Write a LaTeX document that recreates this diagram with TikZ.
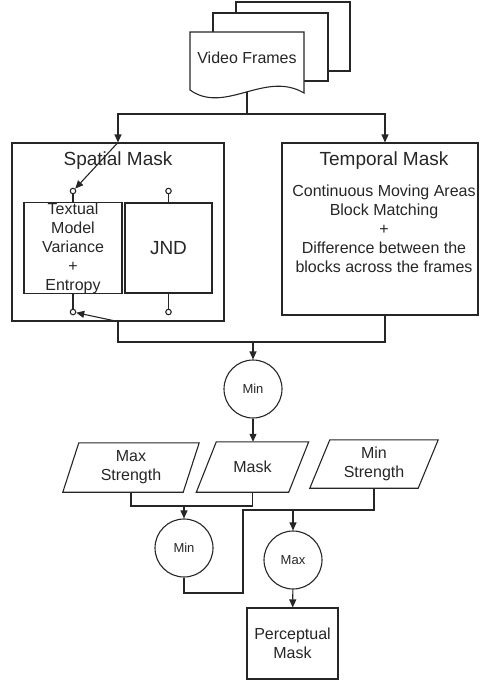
\documentclass[tikz,border=0pt]{standalone}
\usepackage{fontspec}
\setmainfont{Liberation Sans}
\usetikzlibrary{arrows.meta}
\definecolor{ink}{HTML}{262626}
\begin{document}
\begin{tikzpicture}[x=1pt,y=-1pt,
  line/.style={draw=ink, line width=1.1pt},
  arr/.style={line, -{Triangle[length=8pt,width=7pt]}},
  box/.style={line, rectangle, inner sep=0pt},
  txt/.style={text=ink, font=\fontsize{16}{19}\selectfont, align=center, inner sep=0pt},
  title/.style={text=ink, font=\fontsize{19}{22}\selectfont, inner sep=0pt},
  opnode/.style={line, circle, minimum size=58pt, inner sep=0pt, text=ink, font=\fontsize{13}{15}\selectfont},
  port/.style={line, circle, minimum size=5.5pt, inner sep=0pt, fill=white},
  page/.style={line, fill=white},
  pbox/.style={txt, minimum width=#1}]
\useasboundingbox (0,0) rectangle (479,682);

% stack of video frames
\draw[page] (236,2) rectangle (350,71);
\draw[page] (213,13) rectangle (328,81);
\draw[page] (190,32) -- (304,32) -- (304,93)
  .. controls (265,70) and (225,115) .. (190,90) -- cycle;
\node[txt] (vf) at (247,58) {Video Frames};
\coordinate (vfb) at (247,92);
\coordinate (split) at (247,114);

% spatial mask
\node[box, minimum width=212pt, minimum height=178pt] (sm) at (118,232) {};
\node[title] (smt) at (118,161) {Spatial Mask};
\node[box, txt, minimum width=98pt, minimum height=90pt] (tex) at (73,248)
  {Textual\\Model\\Variance\\+\\Entropy};
\node[box, minimum width=87pt, minimum height=90pt, text=ink,
  font=\fontsize{19}{22}\selectfont] (jnd) at (168.5,248) {JND};
\node[port] (p1) at (73,191) {};
\node[port] (p2) at (168.5,191) {};
\node[port] (p3) at (73,312) {};
\node[port] (p4) at (168.5,312) {};
\draw[line] (p1.south) -- (tex.north);
\draw[line] (p2.south) -- (jnd.north);
\draw[line] (tex.south) -- (p3.north);
\draw[line] (jnd.south) -- (p4.north);

% temporal mask
\node[box, minimum width=196pt, minimum height=172pt] (tm) at (380,229) {};
\node[title] (tmt) at (384,161) {Temporal Mask};
\node[txt] (tmb) at (384,229)
  {Continuous Moving Areas\\Block Matching\\+\\Difference between the\\blocks across the frames};

% frames feed both masks
\draw[arr] (vfb) -- (split) -| (sm.north);
\draw[arr] (split) -| ([xshift=5pt]tm.north);
\draw[arr] (sm.north) -- (p1);

% masks combined
\coordinate (join) at (253,342);
\draw[line] ([xshift=5pt]tm.south) |- (sm.south |- join) -- (sm.south);
\draw[arr] (sm.south) -- (p3);
\node[opnode] (min1) at (253,389) {Min};
\draw[arr] (join) -- (min1);

% strength inputs and mask
\node[pbox=120pt, minimum height=49pt] (maxs) at (131,467.5) {Max\\Strength};
\node[pbox=92pt, minimum height=50pt] (mask) at (252.5,467) {Mask};
\node[pbox=108pt, minimum height=48pt] (mins) at (374,464) {Min\\Strength};
\foreach \n/\s in {maxs/8,mask/10,mins/10}
  \draw[line] ([xshift=-\s pt]\n.south west) -- ([xshift=-\s pt]\n.south east)
    -- ([xshift=\s pt]\n.north east) -- ([xshift=\s pt]\n.north west) -- cycle;
\draw[arr] (min1.south) -- (min1.south |- mask.north);

% clamp by min / max
\node[opnode] (min2) at (184,548) {Min};
\node[opnode] (max) at (293,560) {Max};
\coordinate (j1) at (184,506);
\draw[line] (maxs.south) |- (j1) -| (mask.south);
\draw[arr] (j1) -- (min2);
\coordinate (j2) at (293,510);
\coordinate (j3) at (243,510);
\coordinate (j4) at (243,593);
\draw[line] (mins.south) |- (j3) -- (j4) -| (min2.south);
\draw[arr] (j2) -- (max);

% output
\node[box, txt, minimum width=91pt, minimum height=71pt] (pm) at (292.5,643.5) {Perceptual\\Mask};
\draw[arr] (max) -- (pm);
\end{tikzpicture}
\end{document}
